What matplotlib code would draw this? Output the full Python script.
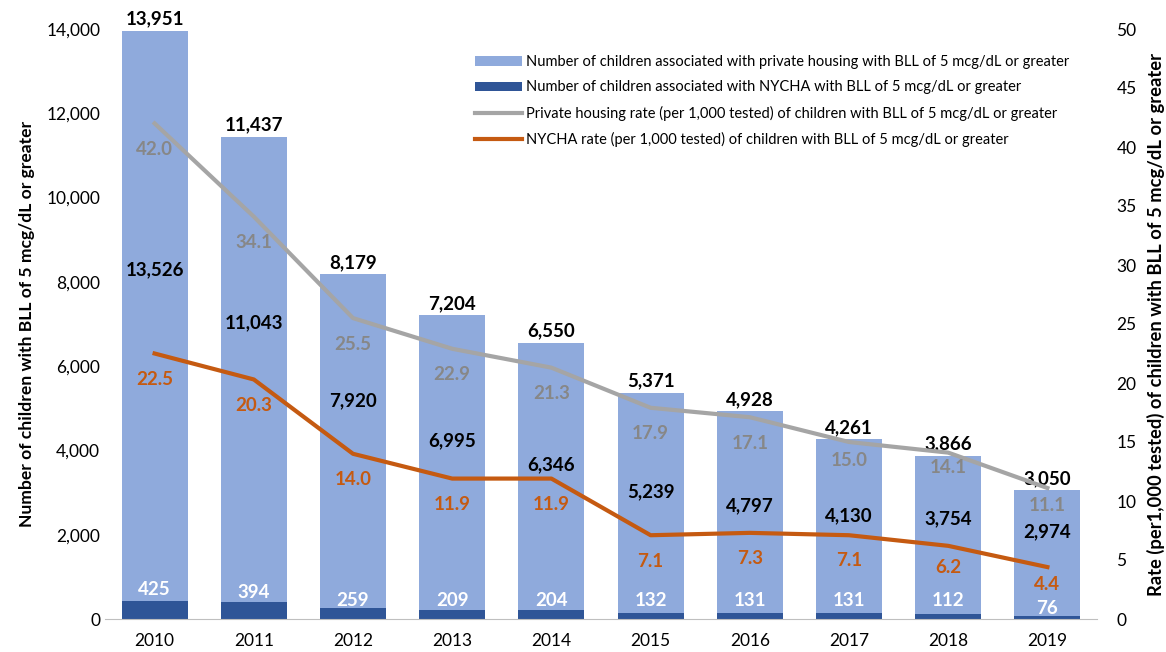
import matplotlib
matplotlib.use("Agg")
import matplotlib.pyplot as plt
import numpy as np

plt.rcParams['font.family'] = ['Lato', 'DejaVu Sans']

years = ["2010", "2011", "2012", "2013", "2014", "2015", "2016", "2017", "2018", "2019"]
totals = [13951, 11437, 8179, 7204, 6550, 5371, 4928, 4261, 3866, 3050]
private_counts = [13526, 11043, 7920, 6995, 6346, 5239, 4797, 4130, 3754, 2974]
nycha_counts = [425, 394, 259, 209, 204, 132, 131, 131, 112, 76]
private_rate = [42.0, 34.1, 25.5, 22.9, 21.3, 17.9, 17.1, 15.0, 14.1, 11.1]
nycha_rate = [22.5, 20.3, 14.0, 11.9, 11.9, 7.1, 7.3, 7.1, 6.2, 4.4]

# label placement as in the reference
private_label_y = [8280, 7020, 5170, 4220, 3650, 3010, 2680, 2440, 2370, 2060]  # left-axis units
nycha_label_y = [690, 640, 430, 430, 430, 450, 450, 450, 450, 260]               # left-axis units
private_rate_drop = [2.2, 2.2, 2.2, 2.2, 2.2, 2.2, 2.2, 1.6, 1.3, 1.45]          # right-axis units
nycha_rate_drop = [2.2, 2.2, 2.2, 2.2, 2.2, 2.2, 2.2, 2.1, 1.85, 1.5]            # right-axis units

c_priv = "#8FAADC"
c_nycha = "#2F5597"
c_grey = "#A5A5A5"
c_orange = "#C55A11"

fig = plt.figure(figsize=(11.66, 6.52), dpi=100)
ax = fig.add_axes([105/1166, 1-619/652, 992/1166, 590/652])
ax2 = ax.twinx()

x = np.arange(len(years))
w = 0.665
ax.bar(x, nycha_counts, w, color=c_nycha, zorder=2,
       label="Number of children associated with NYCHA with BLL of 5 mcg/dL or greater")
ax.bar(x, private_counts, w, bottom=nycha_counts, color=c_priv, zorder=2,
       label="Number of children associated with private housing with BLL of 5 mcg/dL or greater")

ax.set_xlim(-0.5, len(years) - 0.5)
ax.set_ylim(0, 14000)
ax.set_yticks(np.arange(0, 14001, 2000))
ax.set_yticklabels([f"{v:,}" for v in range(0, 14001, 2000)], fontsize=12.5)
ax.set_xticks(x)
ax.set_xticklabels(years, fontsize=12.5)
ax.tick_params(axis='both', length=0)
ax.tick_params(axis='x', pad=10)
for s in ["top", "right", "left"]:
    ax.spines[s].set_visible(False)
ax.spines["bottom"].set_color("#BFBFBF")
ax.set_ylabel("Number of children with BLL of 5 mcg/dL or greater", fontsize=12.6,
              fontweight='bold', labelpad=8)

for i in range(len(years)):
    ax.text(x[i], totals[i] + 80, f"{totals[i]:,}", ha='center', va='bottom',
            fontsize=13.5, fontweight='bold', color='black', zorder=5)
    ax.text(x[i], private_label_y[i], f"{private_counts[i]:,}", ha='center', va='center',
            fontsize=13.5, fontweight='bold', color='black', zorder=5)
    ax.text(x[i], nycha_label_y[i], f"{nycha_counts[i]:,}", ha='center', va='center',
            fontsize=13.5, fontweight='bold', color='white', zorder=5)

ax2.plot(x, private_rate, color=c_grey, lw=3, zorder=3,
         label="Private housing rate (per 1,000 tested) of children with BLL of 5 mcg/dL or greater")
ax2.plot(x, nycha_rate, color=c_orange, lw=3, zorder=3,
         label="NYCHA rate (per 1,000 tested) of children with BLL of 5 mcg/dL or greater")
ax2.set_ylim(0, 50)
ax2.set_yticks(np.arange(0, 51, 5))
ax2.set_yticklabels([str(v) for v in range(0, 51, 5)], fontsize=12.5)
ax2.tick_params(axis='y', length=0, pad=14)
for s in ["top", "right", "left", "bottom"]:
    ax2.spines[s].set_visible(False)
ax2.set_ylabel("Rate (per1,000 tested) of children with BLL of 5 mcg/dL or greater",
               fontsize=13.2, fontweight='bold', labelpad=7)

for i in range(len(years)):
    ax2.text(x[i], private_rate[i] - private_rate_drop[i], f"{private_rate[i]:.1f}",
             ha='center', va='center', fontsize=13.5, fontweight='bold',
             color="#878787", zorder=5)
    ax2.text(x[i], nycha_rate[i] - nycha_rate_drop[i], f"{nycha_rate[i]:.1f}",
             ha='center', va='center', fontsize=13.5, fontweight='bold',
             color=c_orange, zorder=5)

h1, l1 = ax.get_legend_handles_labels()
h2, l2 = ax2.get_legend_handles_labels()
handles = [h1[1], h1[0], h2[0], h2[1]]
labels = [l1[1], l1[0], l2[0], l2[1]]
leg = ax2.legend(handles, labels, loc='upper left', bbox_to_anchor=(0.36, 0.978),
                 frameon=False, fontsize=10.5, handlelength=3.2, handleheight=0.6,
                 labelspacing=0.78, handletextpad=0.3)

fig.savefig("out.png", dpi=100)
